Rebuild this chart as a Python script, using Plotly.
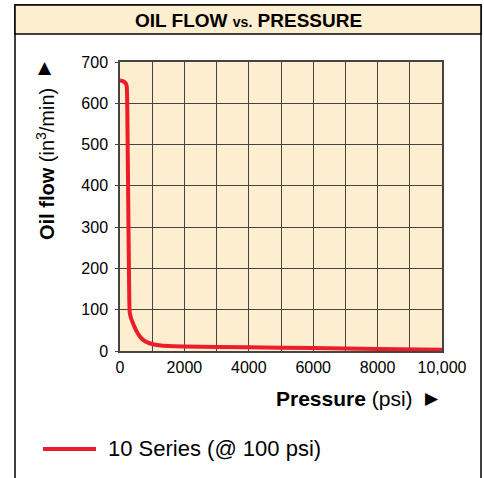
import plotly.graph_objects as go

# Data
pressure_psi = [0, 100, 180, 210, 235, 260, 280, 300, 340, 400, 500, 600, 720, 850, 1000, 1200, 1500, 2000, 4000, 6000, 8000, 10000]
oil_flow = [655, 653, 648, 640, 520, 330, 180, 95, 80, 68, 50, 37, 27, 21, 17, 14, 12, 11, 9, 7, 5, 3]
series_name = "10 Series (@ 100 psi)"
x_tick_vals = [0, 2000, 4000, 6000, 8000, 10000]
x_tick_text = ["0", "2000", "4000", "6000", "8000", "10,000"]
y_tick_vals = [0, 100, 200, 300, 400, 500, 600, 700]

W, H = 484, 478
L, R, T, B = 120, 442, 62, 351


def px(xp):
    return (xp - L) / (R - L)


def py(yp):
    return (B - yp) / (B - T)


CREAM = "#fdeecf"
RED = "#ec1c2a"
GRID = "#444444"
FONT = "Liberation Sans, Arial, Helvetica, sans-serif"

fig = go.Figure()
fig.add_trace(go.Scatter(
    x=pressure_psi, y=oil_flow, mode="lines", name=series_name,
    line=dict(color=RED, width=4, shape="spline", smoothing=0.5),
    showlegend=False, hoverinfo="skip",
))

shapes = [
    # outer frame
    dict(type="rect", xref="paper", yref="paper", x0=px(15), x1=px(481), y0=py(495), y1=py(5),
         line=dict(color="black", width=1.5), fillcolor="rgba(0,0,0,0)", layer="below"),
    # title bar
    dict(type="rect", xref="paper", yref="paper", x0=px(15), x1=px(481), y0=py(34), y1=py(5),
         line=dict(color="black", width=1.5), fillcolor=CREAM, layer="below"),
    # legend sample line
    dict(type="line", xref="paper", yref="paper", x0=px(43), x1=px(96), y0=py(449), y1=py(449),
         line=dict(color=RED, width=4)),
]

annotations = [
    dict(text="<b>OIL FLOW <span style='font-size:14px'>vs.</span> PRESSURE</b>",
         xref="paper", yref="paper", x=px(248), y=py(20), showarrow=False,
         font=dict(size=19, color="black", family=FONT), xanchor="center", yanchor="middle"),
    dict(text="<b>Oil flow</b> (in<sup>3</sup>/min)",
         xref="paper", yref="paper", x=px(45), y=py(164), showarrow=False, textangle=-90,
         font=dict(size=20, color="black", family=FONT), xanchor="center", yanchor="middle"),
    dict(text="▲", xref="paper", yref="paper", x=px(45), y=py(67), showarrow=False,
         font=dict(size=17, color="black", family="DejaVu Sans"), xanchor="center", yanchor="middle"),
    dict(text="<b>Pressure</b> (psi)", xref="paper", yref="paper", x=px(415), y=py(398),
         showarrow=False, font=dict(size=21, color="black", family=FONT),
         xanchor="right", yanchor="middle"),
    dict(text="▶", xref="paper", yref="paper", x=px(432), y=py(398), showarrow=False,
         font=dict(size=17, color="black", family="DejaVu Sans"), xanchor="center", yanchor="middle"),
    dict(text=series_name, xref="paper", yref="paper", x=px(106), y=py(449), showarrow=False,
         font=dict(size=22, color="black", family=FONT), xanchor="left", yanchor="middle"),
]

fig.update_layout(
    width=W, height=H,
    margin=dict(l=L, r=W - R, t=T, b=H - B, pad=0),
    paper_bgcolor="white", plot_bgcolor=CREAM,
    font=dict(family=FONT, size=16, color="black"),
    shapes=shapes, annotations=annotations,
    xaxis=dict(range=[0, 10000], tickvals=x_tick_vals, ticktext=x_tick_text,
               showgrid=True, gridcolor=GRID, gridwidth=1, zeroline=False,
               minor=dict(dtick=1000, tick0=0, showgrid=True, gridcolor=GRID, gridwidth=1, ticks=""),
               showline=True, linecolor=GRID, linewidth=1.5, mirror=True,
               ticks="", ticklabelstandoff=1, tickfont=dict(size=16)),
    yaxis=dict(range=[0, 700], tickvals=y_tick_vals,
               showgrid=True, gridcolor=GRID, gridwidth=1, zeroline=False,
               showline=True, linecolor=GRID, linewidth=1.5, mirror=True,
               ticks="outside", ticklen=3, tickcolor=GRID, ticklabelstandoff=4,
               tickfont=dict(size=16)),
)

fig.write_html("out.html", config={"displayModeBar": False},
               post_script="document.body.style.margin='0';")
